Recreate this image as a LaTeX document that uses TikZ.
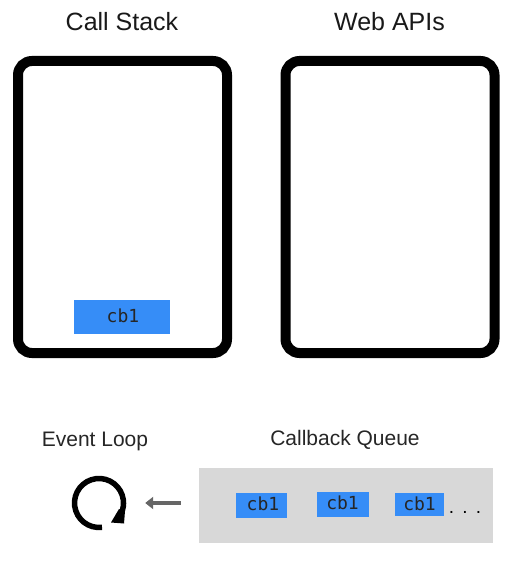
\documentclass[tikz,border=0pt]{standalone}
\usepackage{fontspec}
\setmainfont{Liberation Sans}
\setmonofont{DejaVu Sans Mono}
\usetikzlibrary{arrows.meta}
\definecolor{cbblue}{HTML}{368DF7}
\definecolor{qgrey}{HTML}{D8D8D8}
\definecolor{arrowgrey}{HTML}{666666}
\tikzset{
  panel/.style={draw=black,line width=10pt,rounded corners=14pt,fill=white},
  cbbox/.style={fill=cbblue,inner sep=0pt,text=black!85},
  cbtext/.style={inner sep=0pt,font=\ttfamily\fontsize{18}{18}\selectfont,text=black!85},
  heading/.style={inner sep=0pt,font=\fontsize{25}{25}\selectfont,text=black!90},
  subheading/.style={inner sep=0pt,font=\fontsize{21}{21}\selectfont,text=black!85},
}
\begin{document}
\begin{tikzpicture}[x=1pt,y=-1pt]
\useasboundingbox (0,0) rectangle (511,561);
\node[heading] (stacklabel) at (122,22) {Call Stack};
\node[heading] (apilabel) at (389.5,22) {Web APIs};
\draw[panel] (18,61) rectangle (227,353);
\draw[panel] (285.5,61) rectangle (494.5,353);
\node[cbbox,minimum width=96pt,minimum height=34pt] (top) at (122,317) {};
\node[cbtext] (toptext) at (123,315.5) {cb1};
\node[subheading] (looplabel) at (95,441) {Event Loop};
\node[subheading] (queuelabel) at (345,440) {Callback Queue};
\node[fill=qgrey,minimum width=294pt,minimum height=75pt,inner sep=0pt] (queue) at (346,505.5) {};
\node[cbbox,minimum width=51pt,minimum height=25pt] (cba) at (261.5,505.5) {};
\node[cbbox,minimum width=52pt,minimum height=25pt] (cbb) at (343,504.5) {};
\node[cbbox,minimum width=49pt,minimum height=23pt] (cbc) at (419.5,504.5) {};
\node[cbtext] (cbatext) at (263,504) {cb1};
\node[cbtext] (cbbtext) at (342.5,503) {cb1};
\node[cbtext] (cbctext) at (419.5,504) {cb1};
\node[inner sep=0pt,font=\fontsize{19}{19}\selectfont] (dots) at (465,512) {.\hspace{8.2pt}.\hspace{8.2pt}.};
\node[circle,minimum size=54pt,inner sep=0pt] (loop) at (99,503) {};
\draw[line width=5.5pt] (102,527.3) arc[start angle=83,end angle=383,radius=24.5];
\fill (111,522.5) -- (124,523.5) -- (125,511) -- (119,509) -- cycle;
\draw[arrowgrey,line width=4pt,-{Triangle[length=8pt,width=12pt]},shorten >=19pt,shorten <=18pt] (queue.west |- loop) -- (loop.east);
\end{tikzpicture}
\end{document}
